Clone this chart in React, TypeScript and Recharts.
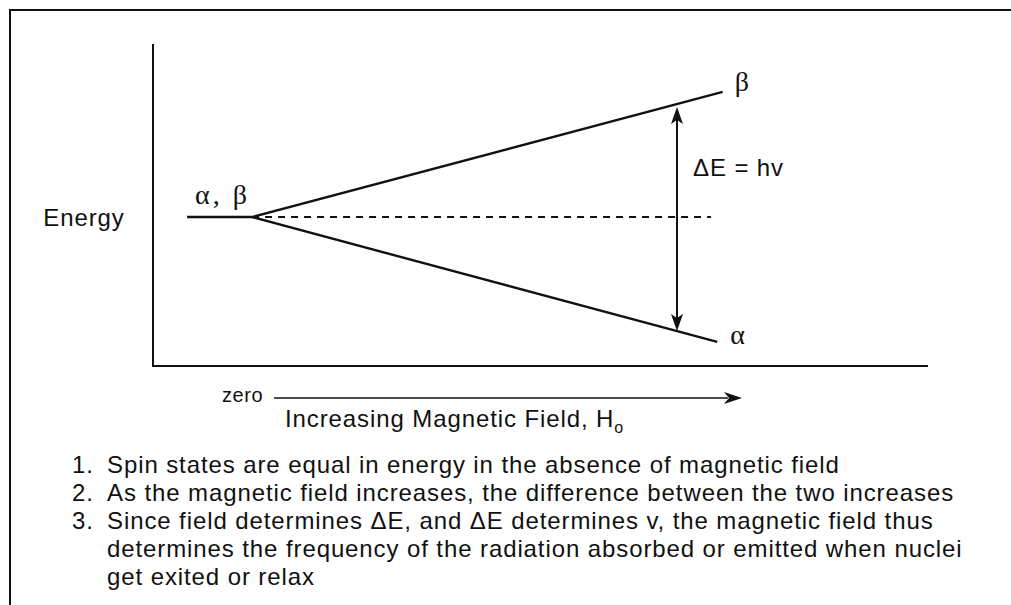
import React from "react";
import { Line, LineChart, ReferenceDot, ReferenceLine, XAxis, YAxis } from "recharts";

// field strength (x) and energy (y), both on a 0..100 scale
const degenerateField = [4.4, 12.8];
const degenerateEnergy = [46.4, 46.4];
const betaField = [12.8, 73.6];
const betaEnergy = [46.4, 85.4];
const alphaField = [12.8, 72.9];
const alphaEnergy = [46.4, 7.5];
const zeroLevelField = [12.8, 72.1];
const zeroLevelEnergy = [46.4, 46.4];
const transitionField = 67.7;
const transitionEnergy = [80.7, 10.9];

const stateLabels = ["α, β", "β", "α"];
const transitionLabel = "ΔE = hv";
const yLabel = "Energy";
const xStartLabel = "zero";
const xLabel = "Increasing Magnetic Field, H";
const xLabelSub = "o";

const noteNumbers = ["1.", "2.", "3."];
const noteLines = [
  ["Spin states are equal in energy in the absence of magnetic field"],
  ["As the magnetic field increases, the difference between the two increases"],
  [
    "Since field determines ΔE, and ΔE determines v, the magnetic field thus",
    "determines the frequency of the radiation absorbed or emitted when nuclei",
    "get exited or relax",
  ],
];

const ink = "#111";
const sans = '"Liberation Sans", Arial, Helvetica, sans-serif';
const serif = '"Liberation Serif", "Times New Roman", serif';

const toPoints = (xs: number[], ys: number[]) => xs.map((x, i) => ({ x, y: ys[i] }));

function arrowHead(x: number, y: number, dir: number) {
  // dir = 1 points down, -1 points up
  const back = y - dir * 17;
  const notch = y - dir * 13;
  return `${x},${y} ${x - 6},${back} ${x},${notch} ${x + 6},${back}`;
}

function TransitionArrow(props: any) {
  const { x1, y1, x2, y2 } = props;
  const top = Math.min(y1, y2);
  const bottom = Math.max(y1, y2);
  return (
    <g>
      <line x1={x1} x2={x2} y1={top + 12} y2={bottom - 12} stroke={ink} strokeWidth={2} />
      <polygon points={arrowHead(x1, top, -1)} fill={ink} />
      <polygon points={arrowHead(x1, bottom, 1)} fill={ink} />
      <text x={x1 + 16} y={(top + bottom) / 2 - 43} fontFamily={sans} fontSize={24} letterSpacing={0.9} fill={ink}>
        {transitionLabel}
      </text>
    </g>
  );
}

function EnergyLabel(props: any) {
  const vb = props.viewBox || { x: 0, y: 45, width: 153, height: 321 };
  return (
    <text x={vb.x + 84} y={226} textAnchor="middle" fontFamily={sans} fontSize={24} letterSpacing={0.9} fill={ink}>
      {yLabel}
    </text>
  );
}

function FieldLabel(props: any) {
  const vb = props.viewBox || { x: 153, y: 366, width: 774, height: 60 };
  const y = vb.y;
  return (
    <g>
      <text x={222} y={y + 36} fontFamily={sans} fontSize={20} letterSpacing={0.6} fill={ink}>
        {xStartLabel}
      </text>
      <line x1={274} x2={728} y1={y + 32} y2={y + 32} stroke={ink} strokeWidth={1.6} />
      <polygon points={`742,${y + 32} 724,${y + 26} 729,${y + 32} 724,${y + 38}`} fill={ink} />
      <text x={285} y={y + 61} fontFamily={sans} fontSize={24} letterSpacing={0.9} fill={ink}>
        {xLabel}
        <tspan fontSize={16} dy={6}>
          {xLabelSub}
        </tspan>
      </text>
    </g>
  );
}

const stateText = (label: string, dx: number, dy: number, spacing = 0) => (p: any) => (
  <text x={p.cx + dx} y={p.cy + dy} fontFamily={serif} fontSize={28} letterSpacing={spacing} fill={ink}>
    {label}
  </text>
);

export default function App() {
  let row = 0;
  return (
    <div
      style={{
        position: "absolute",
        left: 0,
        top: 0,
        width: 1011,
        height: 605,
        overflow: "hidden",
        background: "#fff",
      }}
    >
      <div
        style={{
          position: "absolute",
          left: 9,
          top: 9,
          width: 1100,
          height: 700,
          borderLeft: `2px solid ${ink}`,
          borderTop: `2px solid ${ink}`,
        }}
      />
      <div style={{ position: "absolute", left: 0, top: 0 }}>
        <LineChart width={1011} height={605} margin={{ top: 45, right: 84, bottom: 179, left: 0 }}>
          <XAxis
            type="number"
            dataKey="x"
            domain={[0, 100]}
            tick={false}
            tickLine={false}
            height={60}
            axisLine={{ stroke: ink, strokeWidth: 2, strokeLinecap: "square" }}
            label={FieldLabel}
          />
          <YAxis
            type="number"
            dataKey="y"
            domain={[0, 100]}
            tick={false}
            tickLine={false}
            width={153}
            axisLine={{ stroke: ink, strokeWidth: 2, strokeLinecap: "square" }}
            label={EnergyLabel}
          />
          <Line
            data={toPoints(zeroLevelField, zeroLevelEnergy)}
            dataKey="y"
            stroke={ink}
            strokeWidth={2}
            strokeDasharray="7 6"
            dot={false}
            activeDot={false}
            isAnimationActive={false}
          />
          <Line
            data={toPoints(degenerateField, degenerateEnergy)}
            dataKey="y"
            stroke={ink}
            strokeWidth={2.4}
            dot={false}
            activeDot={false}
            isAnimationActive={false}
          />
          <Line
            data={toPoints(betaField, betaEnergy)}
            dataKey="y"
            stroke={ink}
            strokeWidth={2.4}
            dot={false}
            activeDot={false}
            isAnimationActive={false}
          />
          <Line
            data={toPoints(alphaField, alphaEnergy)}
            dataKey="y"
            stroke={ink}
            strokeWidth={2.4}
            dot={false}
            activeDot={false}
            isAnimationActive={false}
          />
          <ReferenceLine
            segment={[
              { x: transitionField, y: transitionEnergy[0] },
              { x: transitionField, y: transitionEnergy[1] },
            ]}
            shape={TransitionArrow}
          />
          <ReferenceDot
            x={degenerateField[0]}
            y={degenerateEnergy[0]}
            r={1}
            shape={stateText(stateLabels[0], 8, -13, 3)}
          />
          <ReferenceDot x={betaField[1]} y={betaEnergy[1]} r={1} shape={stateText(stateLabels[1], 12, -1)} />
          <ReferenceDot x={alphaField[1]} y={alphaEnergy[1]} r={1} shape={stateText(stateLabels[2], 13, 2)} />
        </LineChart>
      </div>
      <svg width={1011} height={605} style={{ position: "absolute", left: 0, top: 0, pointerEvents: "none" }}>
        {noteLines.map((lines, i) =>
          lines.map((line, j) => {
            const y = 473 + 28 * row++;
            return (
              <g key={`${i}-${j}`}>
                {j === 0 && (
                  <text x={72} y={y} fontFamily={sans} fontSize={24} letterSpacing={0.9} fill={ink}>
                    {noteNumbers[i]}
                  </text>
                )}
                <text x={107} y={y} fontFamily={sans} fontSize={24} letterSpacing={0.9} fill={ink}>
                  {line}
                </text>
              </g>
            );
          })
        )}
      </svg>
    </div>
  );
}
